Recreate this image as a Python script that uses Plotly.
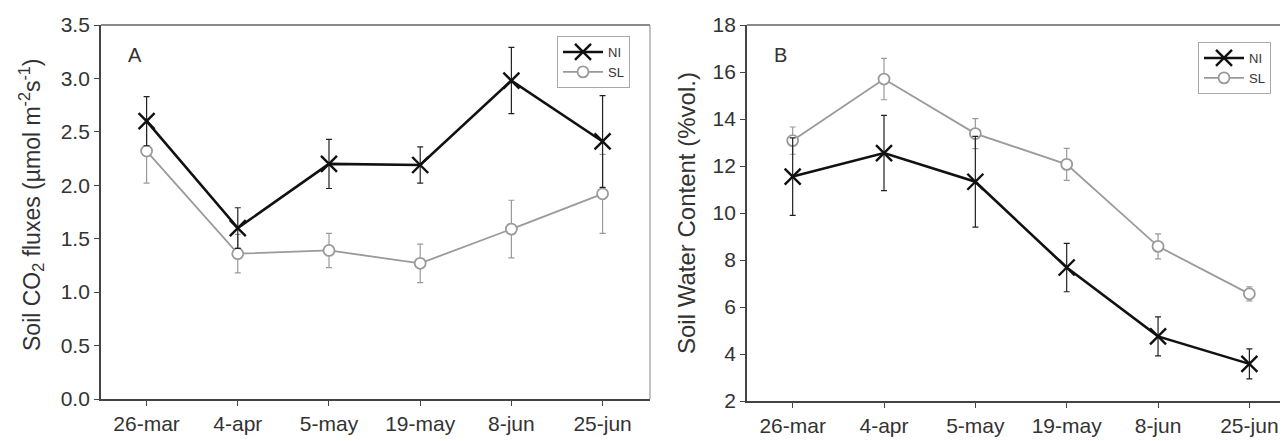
import plotly.graph_objects as go

dates = ["26-mar", "4-apr", "5-may", "19-may", "8-jun", "25-jun"]

# Panel A: soil CO2 fluxes
co2_ni = [2.60, 1.60, 2.20, 2.19, 2.98, 2.41]
co2_ni_err = [0.23, 0.19, 0.23, 0.17, 0.31, 0.43]
co2_sl = [2.32, 1.36, 1.39, 1.27, 1.59, 1.92]
co2_sl_err = [0.30, 0.18, 0.16, 0.18, 0.27, 0.37]

# Panel B: soil water content
swc_ni = [11.55, 12.55, 11.33, 7.68, 4.75, 3.58]
swc_ni_err = [1.65, 1.60, 1.93, 1.03, 0.83, 0.64]
swc_sl = [13.08, 15.70, 13.38, 12.07, 8.58, 6.56]
swc_sl_err = [0.58, 0.88, 0.64, 0.68, 0.53, 0.30]

FONT = "Liberation Sans, Arial, sans-serif"
TXT = "#333333"
NI_COLOR = "#111111"
SL_COLOR = "#9a9a9a"

# page body has an 8px margin; figure occupies the window from (8, 8)
OFF = 8
W, H = 1288 - OFF, 441 - OFF
# pixel boxes (window coords) of the two plot areas
A_BOX = (101, 650, 25, 399)
B_BOX = (747, 1285, 25, 401)


def px(x):
    return (x - OFF) / W


def py(y):
    return 1 - (y - OFF) / H


def dom(box):
    l, r, t, b = box
    return [px(l), px(r)], [py(b), py(t)]


fig = go.Figure()


def add_pair(xa, ya, ni, ni_err, sl, sl_err, legend):
    fig.add_trace(go.Scatter(
        x=dates, y=sl, name="SL", xaxis=xa, yaxis=ya, legend=legend,
        mode="lines+markers",
        line=dict(color=SL_COLOR, width=1.8),
        marker=dict(symbol="circle", size=11, color="white",
                    line=dict(color=SL_COLOR, width=1.8)),
        error_y=dict(type="data", array=sl_err, visible=True,
                     color=SL_COLOR, thickness=1.2, width=3),
        legendrank=2,
    ))
    fig.add_trace(go.Scatter(
        x=dates, y=ni, name="NI", xaxis=xa, yaxis=ya, legend=legend,
        mode="lines+markers",
        line=dict(color=NI_COLOR, width=2.6),
        marker=dict(symbol="x-thin", size=16, color=NI_COLOR,
                    line=dict(color=NI_COLOR, width=2.4)),
        error_y=dict(type="data", array=ni_err, visible=True,
                     color="#222222", thickness=1.2, width=3),
        legendrank=1,
    ))


add_pair("x", "y", co2_ni, co2_ni_err, co2_sl, co2_sl_err, "legend")
add_pair("x2", "y2", swc_ni, swc_ni_err, swc_sl, swc_sl_err, "legend2")

axis_common = dict(
    showline=True, linecolor="#444444", linewidth=1.8,
    ticks="outside", ticklen=5, tickwidth=1.2, tickcolor="#444444",
    showgrid=False, zeroline=False, automargin=False,
    tickfont=dict(family=FONT, size=21, color=TXT),
    mirror=False,
)

ax_dom, ay_dom = dom(A_BOX)
bx_dom, by_dom = dom(B_BOX)

fig.update_layout(
    width=W, height=H,
    margin=dict(l=0, r=0, t=0, b=0),
    paper_bgcolor="white", plot_bgcolor="white",
    font=dict(family=FONT, color=TXT),
    showlegend=True,
    xaxis=dict(axis_common, domain=ax_dom, anchor="y",
               type="category", range=[-0.5, 5.52]),
    yaxis=dict(axis_common, domain=ay_dom, anchor="x",
               range=[0, 3.5], dtick=0.5, tickformat=".1f"),
    xaxis2=dict(axis_common, domain=bx_dom, anchor="y2",
                type="category", range=[-0.5, 5.39]),
    yaxis2=dict(axis_common, domain=by_dom, anchor="x2",
                range=[2, 18], dtick=2),
    legend=dict(
        x=px(557), y=py(36), xanchor="left", yanchor="top",
        bgcolor="white", bordercolor="#aaaaaa", borderwidth=1,
        font=dict(family=FONT, size=13, color=TXT),
        tracegroupgap=0, itemwidth=40,
    ),
    legend2=dict(
        x=px(1198), y=py(42), xanchor="left", yanchor="top",
        bgcolor="white", bordercolor="#aaaaaa", borderwidth=1,
        font=dict(family=FONT, size=13, color=TXT),
        tracegroupgap=0, itemwidth=40,
    ),
)

# light top/right frame lines
for xr, yr in (("x domain", "y domain"), ("x2 domain", "y2 domain")):
    fig.add_shape(type="line", xref=xr, yref=yr, x0=0, x1=1, y0=1, y1=1,
                  line=dict(color="#8a8a8a", width=2))
    fig.add_shape(type="line", xref=xr, yref=yr, x0=1, x1=1, y0=0, y1=1,
                  line=dict(color="#9a9a9a", width=1.2))

annotations = [
    dict(text="A", x=px(126), y=py(42), xref="paper", yref="paper",
         xanchor="left", yanchor="top", showarrow=False,
         font=dict(family=FONT, size=20, color=TXT)),
    dict(text="B", x=px(772), y=py(42), xref="paper", yref="paper",
         xanchor="left", yanchor="top", showarrow=False,
         font=dict(family=FONT, size=20, color=TXT)),
    dict(text="Soil CO<sub>2</sub> fluxes (µmol m<sup>-2</sup>s<sup>-1</sup>)",
         x=px(31), y=py(205), xref="paper", yref="paper",
         textangle=-90, showarrow=False, xanchor="center", yanchor="middle",
         font=dict(family=FONT, size=23, color=TXT)),
    dict(text="Soil Water Content (%vol.)",
         x=px(686), y=py(213), xref="paper", yref="paper",
         textangle=-90, showarrow=False, xanchor="center", yanchor="middle",
         font=dict(family=FONT, size=24, color=TXT)),
]
fig.update_layout(annotations=annotations)

fig.write_html("out.html")
